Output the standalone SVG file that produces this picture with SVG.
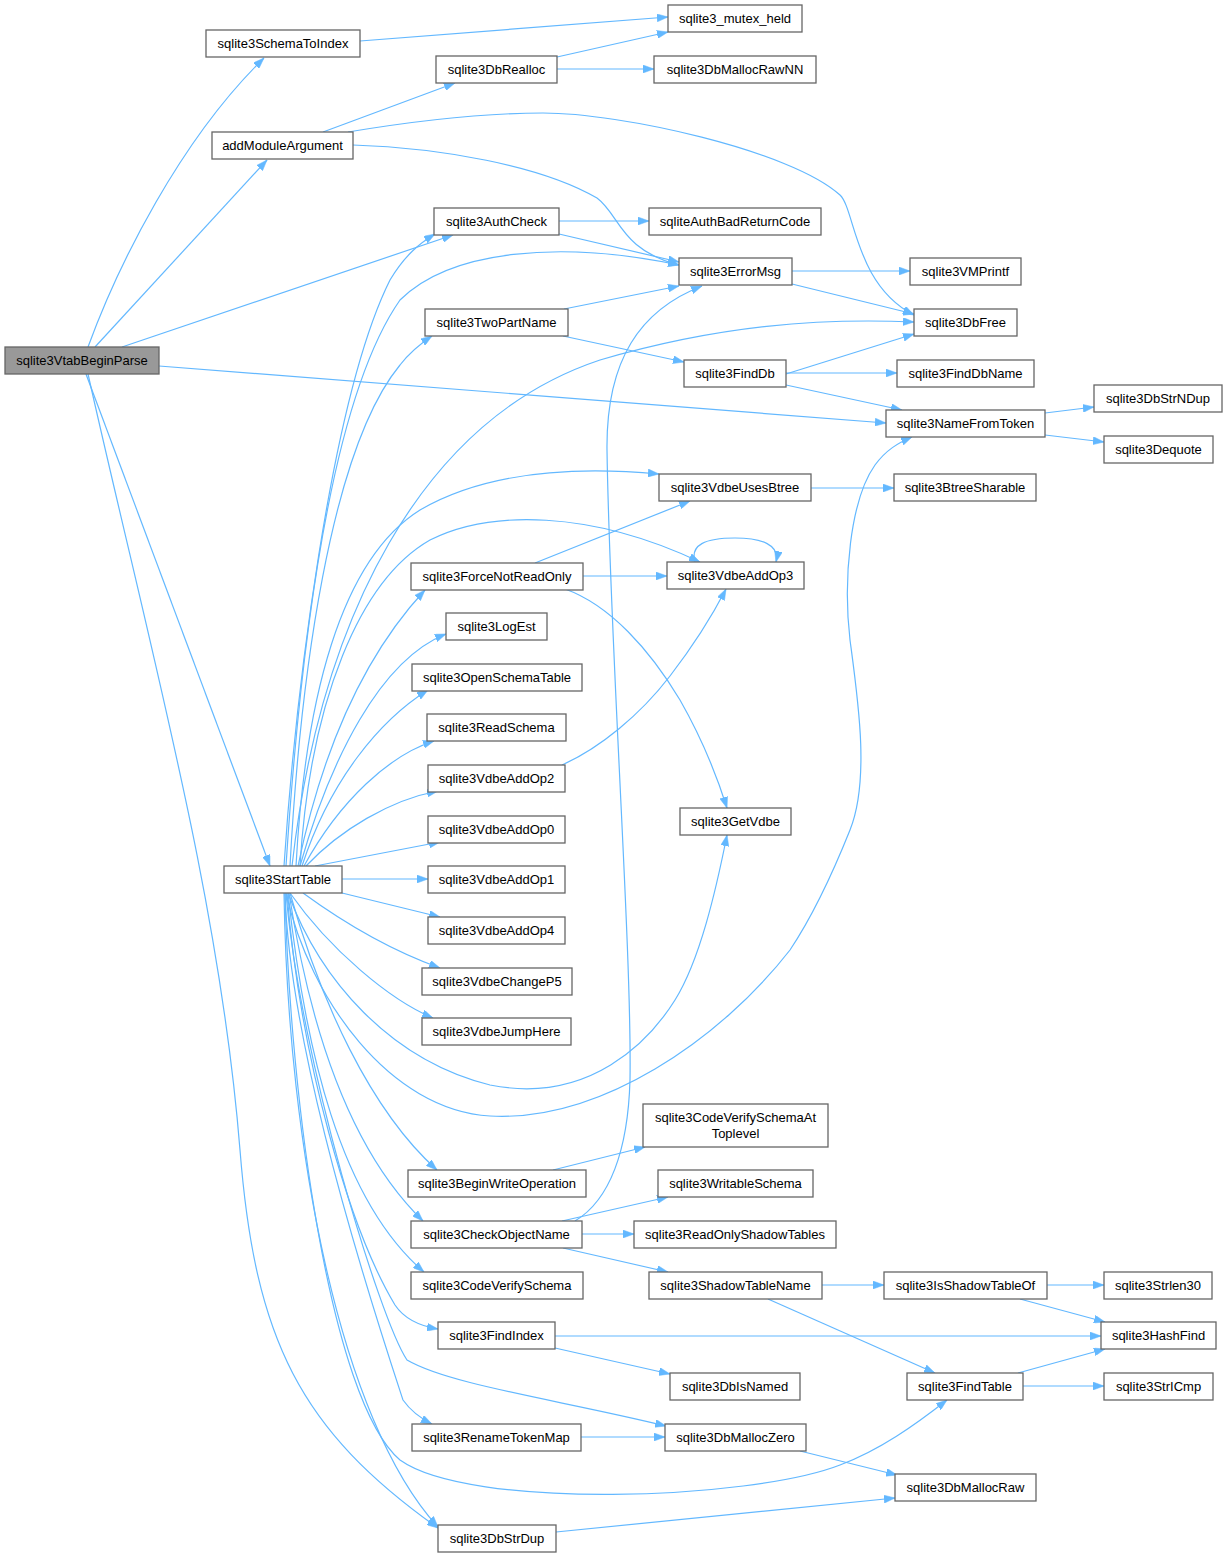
<svg xmlns="http://www.w3.org/2000/svg" width="1228" height="1557" viewBox="0 0 1228 1557">
<style>
.n rect{fill:#ffffff;stroke:#666666;stroke-width:1.3}
.n.root rect{fill:#999999}
text{font-family:"Liberation Sans",Arial,Helvetica,sans-serif;font-size:13px;text-anchor:middle;fill:#000000}
.e path{fill:none;stroke:#63b8ff;stroke-width:1.2;marker-end:url(#ah)}
</style>
<defs>
<marker id="ah" viewBox="0 0 11 8" refX="11" refY="4" markerWidth="11" markerHeight="8" markerUnits="userSpaceOnUse" orient="auto">
<polygon points="0,0 11,4 0,8" fill="#63b8ff" stroke="#63b8ff" stroke-width="0.5"/>
</marker>
</defs>
<rect width="1228" height="1557" fill="#ffffff"/>
<g class="e" id="edges">
<path d="M88,347 C118,265 180,140 264,58"/>
<path d="M95,347 L267,160"/>
<path d="M122,347 L453,235"/>
<path d="M159,366 L886,423"/>
<path d="M86,374 L270,866"/>
<path d="M88,374 C150,650 220,900 240,1150 C255,1340 300,1430 438,1528"/>
<path d="M360,41 L668,17"/>
<path d="M557,57 L668,32"/>
<path d="M557,69 L654,69"/>
<path d="M323,132 L455,83"/>
<path d="M348,132 C420,120 480,113 543,113 C620,113 790,150 840,195 C855,209 855,285 914,315"/>
<path d="M353,145 C440,148 540,165 597,198 C620,215 620,250 679,265"/>
<path d="M559,221 L649,221"/>
<path d="M559,234 L679,262"/>
<path d="M792,271 L910,271"/>
<path d="M792,284 L914,314"/>
<path d="M564,309 L679,286"/>
<path d="M563,336 L684,362"/>
<path d="M786,374 L914,334"/>
<path d="M786,373 L897,373"/>
<path d="M786,385 L902,410"/>
<path d="M1045,413 L1094,407"/>
<path d="M1045,435 L1104,442"/>
<path d="M811,488 L894,488"/>
<path d="M695,562 C690,545 705,538 735,538 C762,538 780,545 776,562"/>
<path d="M535,563 L690,501"/>
<path d="M583,576 L667,576"/>
<path d="M565,589 C610,605 650,650 680,700 C700,735 715,770 727,808"/>
<path d="M562,765 C600,748 640,715 670,676 C690,650 710,620 726,589"/>
<path d="M553,1170 L645,1147"/>
<path d="M575,1221 C610,1200 628,1150 630,1080 C632,950 610,650 607,450 C606,360 640,310 702,286"/>
<path d="M562,1221 L668,1197"/>
<path d="M582,1234 L634,1234"/>
<path d="M563,1248 L668,1272"/>
<path d="M822,1285 L884,1285"/>
<path d="M768,1299 L935,1373"/>
<path d="M1047,1285 L1104,1285"/>
<path d="M1020,1299 L1105,1322"/>
<path d="M555,1336 L1101,1336"/>
<path d="M555,1348 L670,1374"/>
<path d="M1018,1373 L1105,1349"/>
<path d="M1023,1386 L1104,1386"/>
<path d="M581,1437 L665,1437"/>
<path d="M800,1451 L897,1475"/>
<path d="M556,1532 L895,1498"/>
<path d="M284,866 C295,700 330,400 390,280 C405,255 420,243 435,234"/>
<path d="M286,866 C300,650 330,400 400,300 C450,250 560,240 679,265"/>
<path d="M290,866 C300,680 330,450 400,365 C410,352 420,344 432,336"/>
<path d="M292,866 C320,620 420,420 600,360 C720,325 820,318 914,322"/>
<path d="M296,866 C305,700 340,560 420,510 C480,475 560,465 659,474"/>
<path d="M300,866 C310,700 360,580 430,540 C490,510 590,510 700,562"/>
<path d="M298,866 C320,760 360,660 425,590"/>
<path d="M300,866 C330,760 380,660 446,634"/>
<path d="M302,866 C330,780 380,720 428,690"/>
<path d="M304,866 C340,800 390,755 434,741"/>
<path d="M306,866 C340,830 390,800 438,791"/>
<path d="M315,866 L440,842"/>
<path d="M342,879 L428,879"/>
<path d="M342,893 L440,917"/>
<path d="M303,893 C340,920 390,950 440,968"/>
<path d="M290,893 C330,950 390,1000 433,1018"/>
<path d="M288,893 C320,980 390,1060 490,1085 C590,1105 650,1040 675,1000 C700,960 716,890 727,835"/>
<path d="M286,893 C310,1000 390,1110 490,1116 C600,1122 720,1040 790,950 C810,920 830,880 850,830 C870,780 858,700 850,640 C843,580 850,500 875,465 C886,450 898,443 912,437"/>
<path d="M290,893 C320,1000 370,1110 437,1170"/>
<path d="M289,893 C310,1030 350,1150 423,1221"/>
<path d="M288,893 C305,1050 340,1200 424,1272"/>
<path d="M287,893 C300,1060 350,1230 395,1305 C405,1320 420,1326 438,1329"/>
<path d="M286,893 C300,1060 380,1320 407,1360 C450,1385 560,1400 666,1426"/>
<path d="M285,893 C290,1060 380,1330 403,1400 C410,1410 420,1418 432,1424"/>
<path d="M285,893 C290,1100 330,1400 400,1460 C470,1510 750,1500 840,1465 C880,1450 915,1425 947,1400"/>
<path d="M284,893 C288,1150 340,1420 438,1527"/>
</g>
<g id="VtabBeginParse" class="n root"><rect x="5" y="347" width="154" height="27"/><text x="82" y="365">sqlite3VtabBeginParse</text></g>
<g id="SchemaToIndex" class="n"><rect x="206" y="30" width="154" height="27"/><text x="283" y="48">sqlite3SchemaToIndex</text></g>
<g id="addModuleArgument" class="n"><rect x="212" y="132" width="141" height="27"/><text x="282.5" y="150">addModuleArgument</text></g>
<g id="mutex_held" class="n"><rect x="668" y="5" width="134" height="27"/><text x="735" y="23">sqlite3_mutex_held</text></g>
<g id="DbRealloc" class="n"><rect x="436" y="56" width="121" height="27"/><text x="496.5" y="74">sqlite3DbRealloc</text></g>
<g id="DbMallocRawNN" class="n"><rect x="654" y="56" width="162" height="27"/><text x="735" y="74">sqlite3DbMallocRawNN</text></g>
<g id="AuthCheck" class="n"><rect x="434" y="208" width="125" height="27"/><text x="496.5" y="226">sqlite3AuthCheck</text></g>
<g id="AuthBadReturnCode" class="n"><rect x="649" y="208" width="172" height="27"/><text x="735" y="226">sqliteAuthBadReturnCode</text></g>
<g id="ErrorMsg" class="n"><rect x="679" y="258" width="113" height="27"/><text x="735.5" y="276">sqlite3ErrorMsg</text></g>
<g id="TwoPartName" class="n"><rect x="425" y="309" width="143" height="27"/><text x="496.5" y="327">sqlite3TwoPartName</text></g>
<g id="FindDb" class="n"><rect x="684" y="360" width="102" height="27"/><text x="735" y="378">sqlite3FindDb</text></g>
<g id="VMPrintf" class="n"><rect x="910" y="258" width="111" height="27"/><text x="965.5" y="276">sqlite3VMPrintf</text></g>
<g id="DbFree" class="n"><rect x="914" y="309" width="103" height="27"/><text x="965.5" y="327">sqlite3DbFree</text></g>
<g id="FindDbName" class="n"><rect x="897" y="360" width="137" height="27"/><text x="965.5" y="378">sqlite3FindDbName</text></g>
<g id="NameFromToken" class="n"><rect x="886" y="410" width="159" height="27"/><text x="965.5" y="428">sqlite3NameFromToken</text></g>
<g id="DbStrNDup" class="n"><rect x="1094" y="385" width="128" height="27"/><text x="1158" y="403">sqlite3DbStrNDup</text></g>
<g id="Dequote" class="n"><rect x="1104" y="436" width="109" height="27"/><text x="1158.5" y="454">sqlite3Dequote</text></g>
<g id="BtreeSharable" class="n"><rect x="894" y="474" width="142" height="27"/><text x="965" y="492">sqlite3BtreeSharable</text></g>
<g id="VdbeUsesBtree" class="n"><rect x="659" y="474" width="152" height="27"/><text x="735" y="492">sqlite3VdbeUsesBtree</text></g>
<g id="VdbeAddOp3" class="n"><rect x="667" y="562" width="137" height="27"/><text x="735.5" y="580">sqlite3VdbeAddOp3</text></g>
<g id="ForceNotReadOnly" class="n"><rect x="411" y="563" width="172" height="27"/><text x="497" y="581">sqlite3ForceNotReadOnly</text></g>
<g id="LogEst" class="n"><rect x="446" y="613" width="101" height="27"/><text x="496.5" y="631">sqlite3LogEst</text></g>
<g id="OpenSchemaTable" class="n"><rect x="412" y="664" width="170" height="27"/><text x="497" y="682">sqlite3OpenSchemaTable</text></g>
<g id="ReadSchema" class="n"><rect x="427" y="714" width="139" height="27"/><text x="496.5" y="732">sqlite3ReadSchema</text></g>
<g id="VdbeAddOp2" class="n"><rect x="428" y="765" width="137" height="27"/><text x="496.5" y="783">sqlite3VdbeAddOp2</text></g>
<g id="VdbeAddOp0" class="n"><rect x="428" y="816" width="137" height="27"/><text x="496.5" y="834">sqlite3VdbeAddOp0</text></g>
<g id="GetVdbe" class="n"><rect x="680" y="808" width="111" height="27"/><text x="735.5" y="826">sqlite3GetVdbe</text></g>
<g id="StartTable" class="n"><rect x="224" y="866" width="118" height="27"/><text x="283" y="884">sqlite3StartTable</text></g>
<g id="VdbeAddOp1" class="n"><rect x="428" y="866" width="137" height="27"/><text x="496.5" y="884">sqlite3VdbeAddOp1</text></g>
<g id="VdbeAddOp4" class="n"><rect x="428" y="917" width="137" height="27"/><text x="496.5" y="935">sqlite3VdbeAddOp4</text></g>
<g id="VdbeChangeP5" class="n"><rect x="422" y="968" width="150" height="27"/><text x="497" y="986">sqlite3VdbeChangeP5</text></g>
<g id="VdbeJumpHere" class="n"><rect x="422" y="1018" width="149" height="27"/><text x="496.5" y="1036">sqlite3VdbeJumpHere</text></g>
<g id="CodeVerifySchemaAtToplevel" class="n"><rect x="643" y="1104" width="185" height="43"/><text x="735.5" y="1122">sqlite3CodeVerifySchemaAt</text><text x="735.5" y="1138">Toplevel</text></g>
<g id="BeginWriteOperation" class="n"><rect x="408" y="1170" width="178" height="27"/><text x="497" y="1188">sqlite3BeginWriteOperation</text></g>
<g id="WritableSchema" class="n"><rect x="658" y="1170" width="155" height="27"/><text x="735.5" y="1188">sqlite3WritableSchema</text></g>
<g id="CheckObjectName" class="n"><rect x="411" y="1221" width="171" height="27"/><text x="496.5" y="1239">sqlite3CheckObjectName</text></g>
<g id="ReadOnlyShadowTables" class="n"><rect x="634" y="1221" width="202" height="27"/><text x="735" y="1239">sqlite3ReadOnlyShadowTables</text></g>
<g id="CodeVerifySchema" class="n"><rect x="411" y="1272" width="172" height="27"/><text x="497" y="1290">sqlite3CodeVerifySchema</text></g>
<g id="ShadowTableName" class="n"><rect x="649" y="1272" width="173" height="27"/><text x="735.5" y="1290">sqlite3ShadowTableName</text></g>
<g id="IsShadowTableOf" class="n"><rect x="884" y="1272" width="163" height="27"/><text x="965.5" y="1290">sqlite3IsShadowTableOf</text></g>
<g id="Strlen30" class="n"><rect x="1104" y="1272" width="108" height="27"/><text x="1158" y="1290">sqlite3Strlen30</text></g>
<g id="FindIndex" class="n"><rect x="438" y="1322" width="117" height="27"/><text x="496.5" y="1340">sqlite3FindIndex</text></g>
<g id="HashFind" class="n"><rect x="1101" y="1322" width="115" height="27"/><text x="1158.5" y="1340">sqlite3HashFind</text></g>
<g id="DbIsNamed" class="n"><rect x="670" y="1373" width="130" height="27"/><text x="735" y="1391">sqlite3DbIsNamed</text></g>
<g id="FindTable" class="n"><rect x="907" y="1373" width="116" height="27"/><text x="965" y="1391">sqlite3FindTable</text></g>
<g id="StrICmp" class="n"><rect x="1104" y="1373" width="109" height="27"/><text x="1158.5" y="1391">sqlite3StrICmp</text></g>
<g id="RenameTokenMap" class="n"><rect x="412" y="1424" width="169" height="27"/><text x="496.5" y="1442">sqlite3RenameTokenMap</text></g>
<g id="DbMallocZero" class="n"><rect x="665" y="1424" width="141" height="27"/><text x="735.5" y="1442">sqlite3DbMallocZero</text></g>
<g id="DbMallocRaw" class="n"><rect x="895" y="1474" width="141" height="27"/><text x="965.5" y="1492">sqlite3DbMallocRaw</text></g>
<g id="DbStrDup" class="n"><rect x="438" y="1525" width="118" height="27"/><text x="497" y="1543">sqlite3DbStrDup</text></g>
</svg>
